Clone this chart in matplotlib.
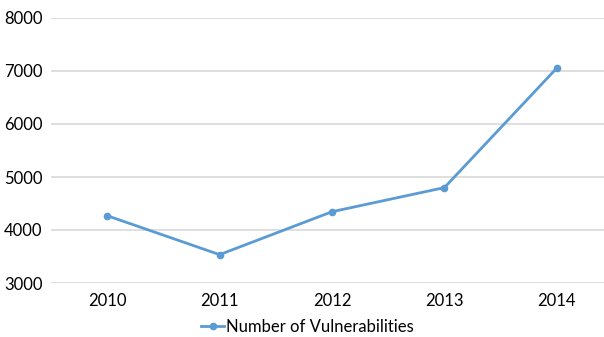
import matplotlib
matplotlib.use("Agg")
import matplotlib.pyplot as plt

# data
years = ["2010", "2011", "2012", "2013", "2014"]
vulns = [4270, 3535, 4345, 4800, 7055]
yticks = [3000, 4000, 5000, 6000, 7000, 8000]

plt.rcParams['font.family'] = ['Lato', 'DejaVu Sans']

fig = plt.figure(figsize=(6.04, 3.37), dpi=100)
ax = fig.add_axes([51 / 604, 1 - 283 / 337, 1 - 51 / 604, (283 - 18) / 337])

x = list(range(len(years)))
ax.plot(x, vulns, color='#5B9BD5', lw=2, marker='o', ms=4.5,
        label='Number of Vulnerabilities', clip_on=False, zorder=3)

ax.set_xlim(-0.5, 4.42)
ax.set_ylim(3000, 8000)
ax.set_yticks(yticks)
ax.set_xticks(x)
ax.set_xticklabels(years)
ax.grid(axis='y', color='#D9D9D9', lw=1.2)
ax.set_axisbelow(True)
for s in ax.spines.values():
    s.set_visible(False)
ax.tick_params(length=0, labelsize=12, colors='black')
ax.tick_params(axis='y', pad=6)
ax.tick_params(axis='x', pad=7)

ax.legend(loc='center', bbox_to_anchor=(0.5 - 20 / 553, -0.165), frameon=False,
          fontsize=12, handlelength=1.4, handletextpad=0.1, borderaxespad=0)

fig.savefig('out.png', dpi=100)
